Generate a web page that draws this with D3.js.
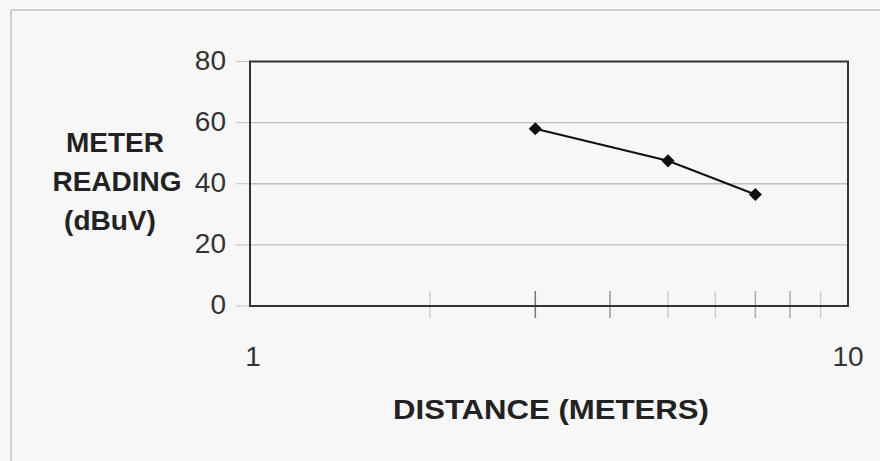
<!DOCTYPE html>
<html><head><meta charset="utf-8">
<script src="https://cdn.jsdelivr.net/npm/d3@7"></script>
<style>body{margin:0;background:#f7f7f7;} svg{display:block;}</style>
</head><body>
<script>
const distances = [3, 5, 7];
const readings = [58, 47.5, 36.5];
const yTicks = [0, 20, 40, 60, 80];
const xTickLabels = [1, 10];
const minorTicks = [2, 3, 4, 5, 6, 7, 8, 9];
const yTitleLines = ["METER", "READING", "(dBuV)"];
const xTitle = "DISTANCE (METERS)";

const W = 880, H = 461;
const m = {left: 250, right: 32, top: 61.5, bottom: 155};
const svg = d3.select("body").append("svg").attr("width", W).attr("height", H);
svg.append("rect").attr("width", W).attr("height", H).attr("fill", "#f7f7f7");
// outer frame
svg.append("line").attr("x1", 11).attr("x2", W).attr("y1", 10).attr("y2", 10).attr("stroke", "#cfcfcf").attr("stroke-width", 2);
svg.append("line").attr("x1", 11).attr("x2", 11).attr("y1", 10).attr("y2", H).attr("stroke", "#cfcfcf").attr("stroke-width", 2);

const x = d3.scaleLog().domain([1, 10]).range([m.left, W - m.right]);
const y = d3.scaleLinear().domain([0, 80]).range([H - m.bottom, m.top]);
const font = "Arial, 'Liberation Sans', sans-serif";

// gridlines
svg.append("g").selectAll("line").data(yTicks.filter(d => d > 0 && d < 80)).join("line")
  .attr("x1", x(1)).attr("x2", x(10)).attr("y1", d => y(d)).attr("y2", d => y(d))
  .attr("stroke", "#bdbdbd").attr("stroke-width", 1.3);

// minor ticks (shade varies in the scanned original)
const tickShade = v => ({3: "#777", 4: "#999", 7: "#aaa", 8: "#aaa"}[v] || "#d0d0d0");
svg.append("g").selectAll("line").data(minorTicks).join("line")
  .attr("x1", d => x(d)).attr("x2", d => x(d)).attr("y1", y(0) - 15).attr("y2", y(0) + 12)
  .attr("stroke", tickShade).attr("stroke-width", 1.5);

// y ticks
svg.append("g").selectAll("line").data(yTicks).join("line")
  .attr("x1", x(1) - 14).attr("x2", x(1)).attr("y1", d => y(d)).attr("y2", d => y(d))
  .attr("stroke", "#c4c4c4").attr("stroke-width", 1);

// plot frame
svg.append("rect").attr("x", x(1)).attr("y", y(80)).attr("width", x(10) - x(1)).attr("height", y(0) - y(80))
  .attr("fill", "none").attr("stroke", "#333").attr("stroke-width", 2);

// y tick labels
svg.append("g").selectAll("text").data(yTicks).join("text")
  .attr("x", 226).attr("y", d => y(d) - 2).attr("dy", "0.36em").attr("text-anchor", "end")
  .attr("font-family", font).attr("font-size", 28).attr("fill", "#333").text(d => d);

// x tick labels
svg.append("g").selectAll("text").data(xTickLabels).join("text")
  .attr("x", d => x(d) + (d === 1 ? 3 : 0)).attr("y", 366).attr("text-anchor", "middle")
  .attr("font-family", font).attr("font-size", 28).attr("fill", "#333").text(d => d);

// titles
const yTitleX = [115, 117, 110];
svg.append("g").selectAll("text").data(yTitleLines).join("text")
  .attr("x", (d, i) => yTitleX[i]).attr("y", (d, i) => 152 + i * 39).attr("text-anchor", "middle")
  .attr("font-family", font).attr("font-weight", "bold").attr("font-size", 28).attr("fill", "#222").text(d => d);
svg.append("text").attr("x", 551).attr("y", 419).attr("text-anchor", "middle")
  .attr("font-family", font).attr("font-weight", "bold").attr("font-size", 28)
  .attr("textLength", 316).attr("lengthAdjust", "spacingAndGlyphs")
  .attr("fill", "#222").text(xTitle);

// series
const pts = distances.map((d, i) => [d, readings[i]]);
svg.append("path").datum(pts).attr("fill", "none").attr("stroke", "#111").attr("stroke-width", 2)
  .attr("d", d3.line().x(d => x(d[0])).y(d => y(d[1])));
svg.append("g").selectAll("path").data(pts).join("path")
  .attr("transform", d => `translate(${x(d[0])},${y(d[1])})`)
  .attr("d", d3.symbol(d3.symbolDiamond2, 110)).attr("fill", "#111");
</script>
</body></html>
